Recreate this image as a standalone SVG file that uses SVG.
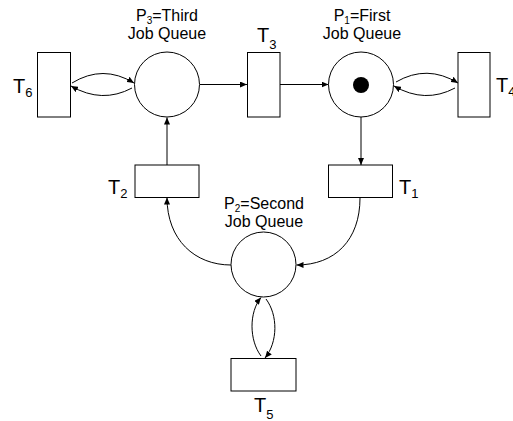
<svg xmlns="http://www.w3.org/2000/svg" width="513" height="421" viewBox="0 0 513 421">
<style>
.place{fill:#fff;stroke:#000;stroke-width:1}
.trans{fill:#fff;stroke:#000;stroke-width:1}
.arc{fill:none;stroke:#000;stroke-width:1;marker-end:url(#ah)}
.lbl{font-family:"Liberation Sans",Arial,sans-serif;font-size:16px;fill:#000}
.tl{font-family:"Liberation Sans",Arial,sans-serif;font-size:20px;fill:#000}
.sub{font-size:13px}
.psub{font-size:10px}
</style>
<defs>
<marker id="ah" markerWidth="8" markerHeight="6" refX="7" refY="3" orient="auto" markerUnits="userSpaceOnUse">
<path d="M0,0 L7,3 L0,6 Z" fill="#000"/>
</marker>
</defs>
<rect width="513" height="421" fill="#fff"/>
<g id="connectors">
<path class="arc" d="M72,83 Q103,64 134,83"/>
<path class="arc" d="M132,88 Q102,104 71,86"/>
<path class="arc" d="M200,84.5 L247,84.5"/>
<path class="arc" d="M280,84.5 L328.5,84.5"/>
<path class="arc" d="M396,82 Q427,64 458,83"/>
<path class="arc" d="M455,88 Q425,104 394,86"/>
<path class="arc" d="M167,165 L167,117.5"/>
<path class="arc" d="M361,117 L361,165"/>
<path class="arc" d="M360,198 C360,240 335,265 296.5,265"/>
<path class="arc" d="M231,265 C195,265 167,240 167,197.5"/>
<path class="arc" d="M261,356 C249,340 249,312 261,297.5"/>
<path class="arc" d="M266,299 C278,315 278,342 265,358"/>
</g>
<g id="P3">
<circle class="place" cx="167" cy="84.5" r="32.5"/>
<text class="lbl" x="167" y="21" text-anchor="middle">P<tspan class="psub" dy="3">3</tspan><tspan dy="-3">=Third</tspan></text>
<text class="lbl" x="167" y="38.5" text-anchor="middle">Job Queue</text>
</g>
<g id="P1">
<circle class="place" cx="361" cy="84.5" r="32.5"/>
<circle cx="361" cy="85" r="8" fill="#000"/>
<text class="lbl" x="362" y="21" text-anchor="middle">P<tspan class="psub" dy="3">1</tspan><tspan dy="-3">=First</tspan></text>
<text class="lbl" x="362" y="38.5" text-anchor="middle">Job Queue</text>
</g>
<g id="P2">
<circle class="place" cx="263.5" cy="264.5" r="32.5"/>
<text class="lbl" x="264" y="208.5" text-anchor="middle">P<tspan class="psub" dy="3">2</tspan><tspan dy="-3">=Second</tspan></text>
<text class="lbl" x="264" y="226.5" text-anchor="middle">Job Queue</text>
</g>
<g id="T6">
<rect class="trans" x="37.5" y="52.5" width="33" height="64.5"/>
<text class="tl" x="13" y="93">T<tspan class="sub" dy="4">6</tspan></text>
</g>
<g id="T3">
<rect class="trans" x="247.5" y="52.5" width="32.5" height="64.5"/>
<text class="tl" x="257" y="42">T<tspan class="sub" dy="7">3</tspan></text>
</g>
<g id="T4">
<rect class="trans" x="458" y="52.5" width="32" height="64.5"/>
<text class="tl" x="496" y="92">T<tspan class="sub" dy="4">4</tspan></text>
</g>
<g id="T2">
<rect class="trans" x="135" y="165" width="64" height="32.5"/>
<text class="tl" x="108" y="194">T<tspan class="sub" dy="3.5">2</tspan></text>
</g>
<g id="T1">
<rect class="trans" x="328.5" y="165" width="64" height="32.5"/>
<text class="tl" x="399" y="194">T<tspan class="sub" dy="3.5">1</tspan></text>
</g>
<g id="T5">
<rect class="trans" x="231" y="358.5" width="65" height="32.5"/>
<text class="tl" x="254" y="411.5">T<tspan class="sub" dy="7.5">5</tspan></text>
</g>
</svg>
